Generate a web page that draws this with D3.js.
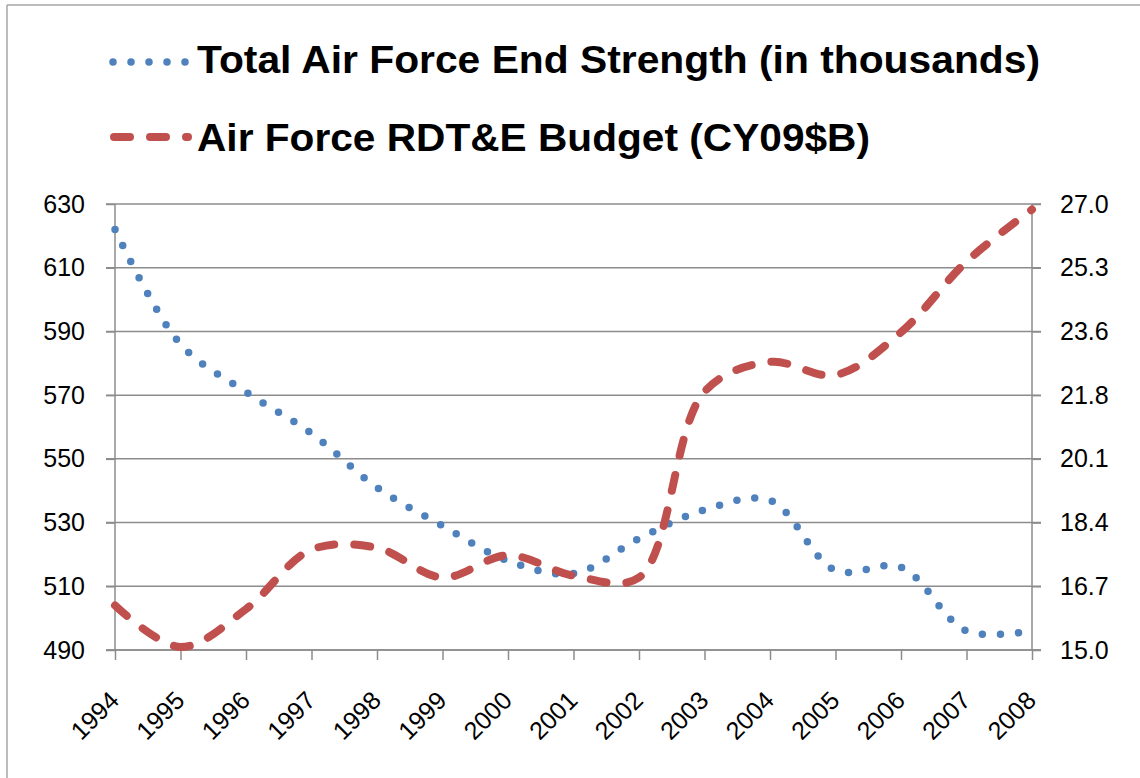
<!DOCTYPE html>
<html>
<head>
<meta charset="utf-8">
<script src="https://cdn.jsdelivr.net/npm/d3@7"></script>
<style>
  html, body { margin: 0; padding: 0; background: #ffffff; }
  svg { display: block; }
</style>
</head>
<body>
<svg id="chart" width="1140" height="778"></svg>
<script>
// ---- data ----
const years = ["1994","1995","1996","1997","1998","1999","2000","2001","2002","2003","2004","2005","2006","2007","2008"];
const endStrength = [622, 586, 571, 558, 541, 529, 518, 514, 525, 534, 537, 515, 516, 496, 496];
const rdteBudget = [16.2, 15.08, 16.1, 17.7, 17.75, 16.95, 17.55, 17.0, 16.95, 21.95, 22.75, 22.4, 23.55, 25.45, 26.85];
const leftTicks = [490, 510, 530, 550, 570, 590, 610, 630];
const rightTickLabels = ["15.0", "16.7", "18.4", "20.1", "21.8", "23.6", "25.3", "27.0"];
const seriesNames = ["Total Air Force End Strength (in thousands)", "Air Force RDT&E Budget (CY09$B)"];

(function () {
// ---- layout ----
const svg = d3.select("#chart");
const pLeft = 115, pRight = 1032, pTop = 204, pBottom = 650;
const blue = "#4F81BD", red = "#C0504D", grid = "#8c8c8c";
const font = "'Liberation Sans', Arial, sans-serif";

const x = d3.scalePoint().domain(years).range([pLeft, pRight]);
const yL = d3.scaleLinear().domain([490, 630]).range([pBottom, pTop]);
const rightTickValues = rightTickLabels.map((d, i) => 15 + i * 12 / 7);
const yR = d3.scaleLinear().domain([15, 27]).range([pBottom, pTop]);

// chart border (top and left)
svg.append("line").attr("x1", 7).attr("x2", 1140).attr("y1", 5).attr("y2", 5)
  .attr("stroke", "#a6a6a6").attr("stroke-width", 1.5);
svg.append("line").attr("x1", 7).attr("x2", 7).attr("y1", 5).attr("y2", 778)
  .attr("stroke", "#a6a6a6").attr("stroke-width", 1.5);

// gridlines
svg.append("g").selectAll("line").data(leftTicks).join("line")
  .attr("x1", pLeft - 9).attr("x2", pRight + 9)
  .attr("y1", d => yL(d)).attr("y2", d => yL(d))
  .attr("stroke", grid).attr("stroke-width", 1.5);

// left axis
const gL = svg.append("g").attr("transform", `translate(${pLeft},0)`)
  .call(d3.axisLeft(yL).tickValues(leftTicks).tickSize(9).tickPadding(21).tickFormat(d3.format("d")));
gL.select(".domain").attr("stroke", grid).attr("stroke-width", 1.5).attr("d", `M0,${pTop}V${pBottom}`);
gL.selectAll(".tick line").attr("stroke", grid).attr("stroke-width", 1.5);
gL.selectAll(".tick text").attr("font-family", font).attr("font-size", 25).attr("fill", "#000");

// right axis
const gR = svg.append("g").attr("transform", `translate(${pRight},0)`)
  .call(d3.axisRight(yR).tickValues(rightTickValues).tickSize(9).tickPadding(19)
    .tickFormat((d, i) => rightTickLabels[i]));
gR.select(".domain").attr("stroke", grid).attr("stroke-width", 1.5).attr("d", `M0,${pTop}V${pBottom}`);
gR.selectAll(".tick line").attr("stroke", grid).attr("stroke-width", 1.5);
gR.selectAll(".tick text").attr("font-family", font).attr("font-size", 25).attr("fill", "#000");

// bottom axis
const gB = svg.append("g").attr("transform", `translate(0,${pBottom})`)
  .call(d3.axisBottom(x).tickSize(10).tickFormat(""));
gB.select(".domain").attr("stroke", grid).attr("stroke-width", 1.5).attr("d", `M${pLeft - 9},0H${pRight + 9}`);
gB.selectAll(".tick line").attr("stroke", grid).attr("stroke-width", 1.5);
gB.selectAll(".tick").append("text")
  .attr("transform", "translate(5,52) rotate(-45)")
  .attr("text-anchor", "end")
  .attr("font-family", font).attr("font-size", 25).attr("fill", "#000")
  .text(d => d);

// lines
const curve = d3.curveCatmullRom.alpha(0.5);
const lineL = d3.line().x((d, i) => x(years[i])).y(d => yL(d)).curve(curve);
const lineR = d3.line().x((d, i) => x(years[i])).y(d => yR(d)).curve(curve);

svg.append("path").datum(endStrength).attr("d", lineL)
  .attr("fill", "none").attr("stroke", blue).attr("stroke-width", 7.5)
  .attr("stroke-linecap", "round").attr("stroke-dasharray", "0 18");

svg.append("path").datum(rdteBudget).attr("d", lineR)
  .attr("fill", "none").attr("stroke", red).attr("stroke-width", 8)
  .attr("stroke-linecap", "round").attr("stroke-dasharray", "16 20");

// legend
const leg = svg.append("g");
leg.append("line").attr("x1", 113).attr("x2", 187).attr("y1", 62).attr("y2", 62)
  .attr("stroke", blue).attr("stroke-width", 7.5).attr("stroke-linecap", "round").attr("stroke-dasharray", "0 18");
leg.append("line").attr("x1", 114).attr("x2", 188).attr("y1", 137).attr("y2", 137)
  .attr("stroke", red).attr("stroke-width", 8).attr("stroke-linecap", "round").attr("stroke-dasharray", "16 20");
leg.append("text").attr("x", 197).attr("y", 73)
  .attr("font-family", font).attr("font-weight", "bold").attr("font-size", 38).attr("fill", "#000")
  .attr("textLength", 843).attr("lengthAdjust", "spacingAndGlyphs")
  .text(seriesNames[0]);
leg.append("text").attr("x", 197).attr("y", 151)
  .attr("font-family", font).attr("font-weight", "bold").attr("font-size", 38).attr("fill", "#000")
  .attr("textLength", 673).attr("lengthAdjust", "spacingAndGlyphs")
  .text(seriesNames[1]);
})();
</script>
</body>
</html>
